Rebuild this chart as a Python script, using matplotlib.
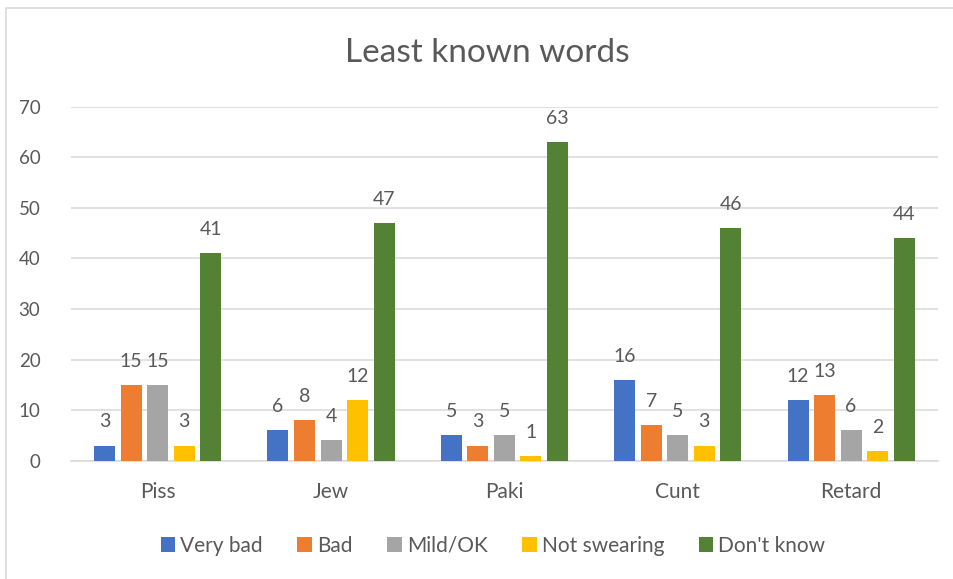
import matplotlib.pyplot as plt
import matplotlib.patches as mpatches
import numpy as np

plt.rcParams['font.family'] = ['Lato', 'DejaVu Sans']

words = ["Piss", "Jew", "Paki", "Cunt", "Retard"]
very_bad = [3, 6, 5, 16, 12]
bad = [15, 8, 3, 7, 13]
mild_ok = [15, 4, 5, 5, 6]
not_swearing = [3, 12, 1, 3, 2]
dont_know = [41, 47, 63, 46, 44]

series_names = ["Very bad", "Bad", "Mild/OK", "Not swearing", "Don't know"]
series_vals = [very_bad, bad, mild_ok, not_swearing, dont_know]
colors = ["#4472C4", "#ED7D31", "#A5A5A5", "#FFC000", "#548235"]
text_col = "#595959"

fig = plt.figure(figsize=(9.54, 5.79), dpi=100)
ax = fig.add_axes([0.0744, 0.2043, 0.9086, 0.6114])

x = np.arange(len(words))
step = 0.153
width = 0.121
for k, (name, vals, c) in enumerate(zip(series_names, series_vals, colors)):
    pos = x + (k - 2) * step
    bars = ax.bar(pos, vals, width, color=c, label=name, zorder=3)
    for b, v in zip(bars, vals):
        ax.annotate(str(v), (b.get_x() + b.get_width() / 2, v),
                    xytext=(0, 13), textcoords="offset points",
                    ha="center", va="baseline", fontsize=14, color=text_col)

ax.set_xlim(-0.5, len(words) - 0.5)
ax.set_ylim(0, 70)
ax.set_yticks(range(0, 71, 10))
ax.set_xticks(x)
ax.set_xticklabels(words)
ax.grid(axis="y", color="#D9D9D9", linewidth=1.1, zorder=0)
for s in ["top", "right", "left"]:
    ax.spines[s].set_visible(False)
ax.spines["bottom"].set_color("#D9D9D9")
ax.spines["bottom"].set_linewidth(1.1)
ax.tick_params(axis="both", length=0, labelcolor=text_col)
ax.tick_params(axis="y", pad=22, labelsize=13.5)
ax.tick_params(axis="x", pad=15, labelsize=15)

fig.text(487 / 954, 1 - 53 / 579, "Least known words", ha="center", va="center",
         fontsize=24, color=text_col)

fig.legend(loc="center", bbox_to_anchor=(493 / 954, 1 - 546 / 579), ncol=5,
           frameon=False, fontsize=15, labelcolor=text_col,
           handlelength=0.7, handleheight=0.7, handletextpad=0.25,
           columnspacing=1.65)

# outer chart border
fig.patches.append(mpatches.Rectangle((6.5 / 954, -0.05), 2, 1 - 7.5 / 579 + 0.05,
                                      transform=fig.transFigure, fill=False,
                                      edgecolor="#D9D9D9", linewidth=1.2))

fig.savefig("out.png", dpi=100)
